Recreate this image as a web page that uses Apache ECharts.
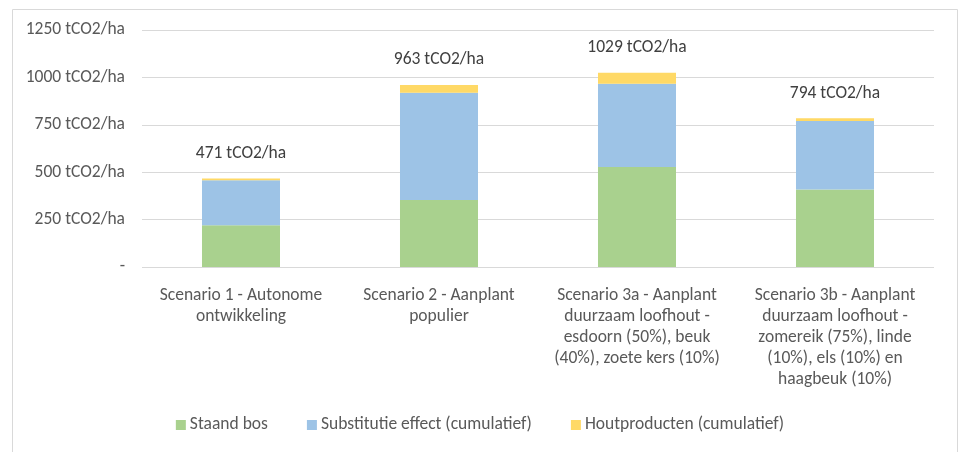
<!DOCTYPE html>
<html>
<head>
<meta charset="utf-8">
<script src="https://cdn.jsdelivr.net/npm/echarts@6/dist/echarts.min.js"></script>
<style>html,body{margin:0;padding:0;background:#fff;}#c{width:960px;height:452px;}</style>
</head>
<body>
<div id="c"></div>
<script>
const categories = [
  'Scenario 1 - Autonome\nontwikkeling',
  'Scenario 2 - Aanplant\npopulier',
  'Scenario 3a - Aanplant\nduurzaam loofhout -\nesdoorn (50%), beuk\n(40%), zoete kers (10%)',
  'Scenario 3b - Aanplant\nduurzaam loofhout -\nzomereik (75%), linde\n(10%), els (10%) en\nhaagbeuk (10%)'
];
const staandBos = [220, 354, 527, 409];
const substitutie = [238, 565, 440, 361];
const houtproducten = [9, 41, 58, 14];
const totals = [471, 963, 1029, 794];
const yTicks = { min: 0, max: 1250, interval: 250 };
const unit = ' tCO2/ha';

const FONT = 'Carlito, Calibri, Lato, sans-serif';
const FS = 17.5;
const chart = echarts.init(document.getElementById('c'));
chart.setOption({
  animation: false,
  textStyle: { fontFamily: FONT },
  graphic: [{
    type: 'rect', left: 10, top: 7, silent: true,
    shape: { width: 945, height: 460 },
    style: { fill: 'none', stroke: '#d9d9d9', lineWidth: 1 }
  }],
  grid: { left: 142, right: 26, top: 30, bottom: 185 },
  legend: {
    top: 411, left: 'center',
    itemWidth: 10, itemHeight: 10, itemGap: 39,
    icon: 'rect',
    textStyle: { fontFamily: FONT, fontSize: FS, color: '#595959', padding: [0, 0, 0, -1] },
    data: ['Staand bos', 'Substitutie effect (cumulatief)', 'Houtproducten (cumulatief)']
  },
  xAxis: {
    type: 'category', data: categories,
    axisLine: { show: false }, axisTick: { show: false },
    axisLabel: { fontFamily: FONT, fontSize: FS, color: '#595959', lineHeight: 21, margin: 18, interval: 0 }
  },
  yAxis: {
    type: 'value', min: yTicks.min, max: yTicks.max, interval: yTicks.interval,
    axisLine: { show: false }, axisTick: { show: false },
    splitLine: { lineStyle: { color: '#d9d9d9', width: 1 } },
    axisLabel: {
      fontFamily: FONT, fontSize: FS, color: '#595959', margin: 17,
      formatter: v => v === 0 ? '-' : v + unit
    }
  },
  series: [
    { name: 'Staand bos', type: 'bar', stack: 't', data: staandBos, barWidth: '39.4%',
      itemStyle: { color: '#a9d18e' } },
    { name: 'Substitutie effect (cumulatief)', type: 'bar', stack: 't', data: substitutie,
      itemStyle: { color: '#9dc3e6' } },
    { name: 'Houtproducten (cumulatief)', type: 'bar', stack: 't', data: houtproducten,
      itemStyle: { color: '#ffd966' },
      label: { show: true, position: 'top', distance: 15, lineHeight: 20,
        fontFamily: FONT, fontSize: FS, color: '#404040',
        formatter: p => totals[p.dataIndex] + unit } }
  ]
});
</script>
</body>
</html>
